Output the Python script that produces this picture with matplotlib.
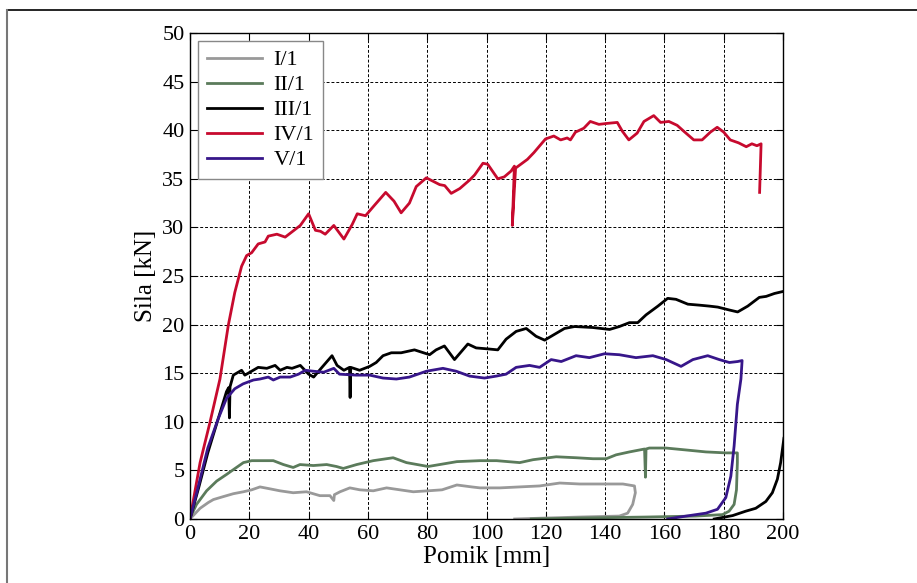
import numpy as np
import matplotlib
matplotlib.use("Agg")
import matplotlib.pyplot as plt
from matplotlib.lines import Line2D

plt.rcParams["font.family"] = "Liberation Serif"

# ── Data ─────────────────────────────────────────────────────────────────────
labels = ["I/1", "II/1", "III/1", "IV/1", "V/1"]
colors = ["#999999", "#5b7b5b", "#000000", "#c70a2e", "#37168a"]

x_i1 = [0, 3.4, 6.2, 7.9, 11.2, 14.6, 18, 20.8, 23.6, 27, 30.3, 34.8, 39.3,
        43.8, 47.2, 48.5, 48.7, 50.6, 53.9, 57.3, 61.8, 66.3, 70.8, 75.3, 80.3,
        85, 90, 95, 97.8, 104.5, 111.2, 117.9, 124.7, 131.4, 138.1, 146, 149.9,
        150.2, 149.3, 147.6, 144.8, 131.4, 120.2, 109.5]
y_i1 = [0, 1.1, 1.7, 2.0, 2.3, 2.6, 2.8, 3.0, 3.3, 3.1, 2.9, 2.7, 2.8,
        2.4, 2.4, 1.9, 2.5, 2.8, 3.2, 3.0, 2.9, 3.2, 3.0, 2.8, 2.9,
        3.0, 3.5, 3.3, 3.2, 3.2, 3.3, 3.4, 3.7, 3.6, 3.6, 3.6, 3.4,
        2.7, 1.5, 0.6, 0.3, 0.2, 0.1, 0.0]

x_ii1 = [0, 2.2, 5.6, 9, 12.4, 15.2, 18, 20.8, 24.7, 28.1, 31.5, 34.8, 37.1,
         41.6, 46.1, 49.4, 51.7, 56.2, 61.8, 68.5, 73, 80.3, 90, 97.8, 103.4,
         111.2, 115.7, 123.5, 130.3, 135.9, 140.4, 143.7, 148.2, 153.3, 153.6,
         153.8, 154.9, 160.5, 167.3, 174, 180.7, 184.6, 184.6, 184.3, 183.5,
         181.8, 179.6, 170.6, 153.8, 131.4, 115.1]
y_ii1 = [0.1, 1.5, 2.9, 3.9, 4.6, 5.2, 5.8, 6.0, 6.0, 6.0, 5.6, 5.3, 5.6,
         5.5, 5.6, 5.4, 5.2, 5.6, 6.0, 6.3, 5.8, 5.4, 5.9, 6.0, 6.0,
         5.8, 6.1, 6.4, 6.3, 6.2, 6.2, 6.6, 6.9, 7.2, 4.3,
         7.2, 7.3, 7.3, 7.1, 6.9, 6.8, 6.8, 5.8, 3.0, 1.5,
         0.8, 0.45, 0.3, 0.2, 0.1, 0.0]

x_iii1 = [0, 3, 6, 9.5, 12.3, 13.0, 13.3, 13.5, 14.6, 17.4, 18.5, 20.2, 23,
          25.9, 28.7, 30.4, 32.7, 34.4, 37.2, 40, 41.7, 44.5, 47.9, 49.6, 51.9,
          53.8, 54.0, 54.2, 57.2, 60.6, 62.8, 65.1, 67.9, 71.2, 75.7, 80.8, 83,
          85.8, 89.2, 93.7, 96.5, 100.4, 103.8, 106.6, 110, 113.4, 116.7, 119.6,
          123.5, 126.3, 129.7, 135.8, 141.5, 144.8, 148.2, 151, 153.8, 157.8,
          161.1, 163.9, 167.9, 171.8, 175.2, 178, 181.9, 184.7, 188.1, 192,
          194.3, 197.1, 199.9]
y_iii1 = [0, 3.3, 6.8, 10.3, 13.1, 13.5, 10.4, 13.6, 14.8, 15.3, 14.8, 15.1, 15.6,
          15.5, 15.8, 15.3, 15.6, 15.5, 15.8, 14.9, 14.6, 15.6, 16.8, 15.8, 15.3,
          15.6, 12.5, 15.6, 15.3, 15.7, 16.1, 16.8, 17.1, 17.1, 17.4, 16.9, 17.4,
          17.8, 16.4, 18.0, 17.6, 17.5, 17.4, 18.5, 19.3, 19.6, 18.8, 18.4,
          19.1, 19.6, 19.8, 19.7, 19.5, 19.8, 20.2, 20.2, 21.0, 21.9,
          22.7, 22.6, 22.1, 22.0, 21.9, 21.8, 21.5, 21.3, 21.9, 22.8,
          22.9, 23.2, 23.4]
# reloading branch of III/1
x_iii1b = [176.8, 183, 187.4, 190.8, 194.2, 196.4, 198.1, 199.2, 200.3]
y_iii1b = [0.0, 0.35, 0.8, 1.1, 1.8, 2.7, 4.1, 5.8, 8.3]

x_iv1 = [0, 3.4, 6.7, 10.1, 12.9, 15.1, 17.4, 19.1, 20.8, 23, 25.3, 26.4, 29.3,
         32.1, 35.5, 37.2, 40, 42.3, 44, 45.6, 48.5, 51.9, 54.7, 56.4, 59.2,
         62, 66, 68.8, 71.2, 74, 76.3, 79.7, 84.2, 85.9, 88.1, 91, 94.4, 96,
         98.8, 100.4, 103.8, 106, 108.3, 109.4, 108.7, 109.8, 113.8, 116, 119.9,
         122.7, 125, 127.2, 128.3, 130, 132.8, 135, 137.9, 140.7, 144.1, 145.8,
         148, 150.8, 153.1, 156.4, 158.7, 161.5, 164.3, 166.5, 169.9, 172.7,
         175.5, 177.8, 180, 182.2, 185, 187.6, 189.5, 191.2, 192.6, 192.1]
y_iv1 = [0, 5.8, 9.9, 14.4, 19.9, 23.3, 26.0, 27.1, 27.4, 28.3, 28.5, 29.1, 29.3,
         29.0, 29.8, 30.2, 31.4, 29.7, 29.6, 29.3, 30.2, 28.8, 30.3, 31.4, 31.2,
         32.2, 33.6, 32.7, 31.5, 32.5, 34.2, 35.1, 34.4, 34.3, 33.5, 34.0, 34.9, 35.4,
         36.6, 36.5, 35.0, 35.2, 35.8, 36.3, 30.2, 36.1, 37.0, 37.7, 39.1,
         39.4, 39.0, 39.2, 39.0, 39.8, 40.2, 40.9, 40.6, 40.7, 40.8, 39.9,
         39.0, 39.7, 40.9, 41.5, 40.8, 40.9, 40.5, 39.9, 39.0, 39.0,
         39.8, 40.3, 39.8, 39.0, 38.7, 38.3, 38.6, 38.4, 38.6, 33.6]

x_v1 = [0, 3, 6, 9.5, 12.3, 15.1, 17.9, 21.4, 23.6, 26.4, 28.1, 30.4, 33.8,
        36.6, 38.9, 41.7, 45.1, 48.5, 50.4, 56, 60.6, 65.1, 69.6, 74, 79.7,
        85.3, 89.8, 94.3, 99.3, 103.3, 106.6, 110, 114.5, 117.9, 121.8, 125.2,
        130.2, 134.7, 139.8, 144.8, 150.4, 156.1, 160.6, 165.6, 169.6, 174.6,
        178.5, 181.9, 184.7, 186.2, 185.8, 184.6, 183.5, 182.4, 180.7, 177.9,
        174, 167.3, 161.1]
y_v1 = [0, 3.6, 7.3, 10.3, 12.4, 13.4, 13.9, 14.3, 14.4, 14.6, 14.3, 14.6, 14.6,
        14.9, 15.3, 15.2, 15.1, 15.5, 14.9, 14.8, 14.8, 14.5, 14.4, 14.6, 15.2,
        15.5, 15.2, 14.7, 14.5, 14.7, 14.9, 15.6, 15.8, 15.6, 16.4, 16.2,
        16.8, 16.6, 17.0, 16.9, 16.6, 16.8, 16.4, 15.7, 16.4, 16.8,
        16.4, 16.1, 16.2, 16.3, 14.4, 11.8, 7.5, 4.4, 2.2, 1.0,
        0.6, 0.3, 0.0]

series = [(x_i1, y_i1), (x_ii1, y_ii1), (x_iii1, y_iii1), (x_iv1, y_iv1), (x_v1, y_v1)]

# ── Figure ───────────────────────────────────────────────────────────────────
fig = plt.figure(figsize=(9.17, 5.83), dpi=100)
ax = fig.add_axes([0.2072, 0.1098, 0.6467, 0.8336])

for (xs, ys), lab, col in zip(series, labels, colors):
    ax.plot(xs, ys, color=col, lw=2.0, label=lab, solid_joinstyle="round")
ax.plot(x_iii1b, y_iii1b, color=colors[2], lw=2.0)

ax.set_xlim(0, 200)
ax.set_ylim(0, 50)
ax.set_xticks(np.arange(0, 201, 20))
ax.set_yticks(np.arange(0, 51, 5))
ax.grid(True, color="black", linestyle=(0, (3, 2)), linewidth=0.7)
ax.tick_params(direction="in", top=True, right=True, labelsize=16, length=5,
               width=0.8, pad=4)
for sp in ax.spines.values():
    sp.set_linewidth(1.0)

ax.set_xlabel("Pomik [mm]", fontsize=18, labelpad=2)
ax.set_ylabel("Sila [kN]", fontsize=18, labelpad=4)

leg = ax.legend(loc="upper left", bbox_to_anchor=(0.0135, 0.9835), fontsize=16,
                frameon=True, fancybox=False, handlelength=2.5,
                handletextpad=0.5, borderpad=0.4, labelspacing=0.2,
                borderaxespad=0)
leg.get_frame().set_edgecolor("#888888")
leg.get_frame().set_linewidth(1.0)
leg.get_frame().set_alpha(1.0)

# outer frame lines (top and left)
fig.add_artist(Line2D([6.5 / 917, 1.0], [1 - 10 / 583, 1 - 10 / 583],
                      transform=fig.transFigure, color="black", lw=1.2))
fig.add_artist(Line2D([6.5 / 917, 6.5 / 917], [0, 1 - 10 / 583],
                      transform=fig.transFigure, color="#777777", lw=1.5))

fig.savefig("out.png", dpi=100)
